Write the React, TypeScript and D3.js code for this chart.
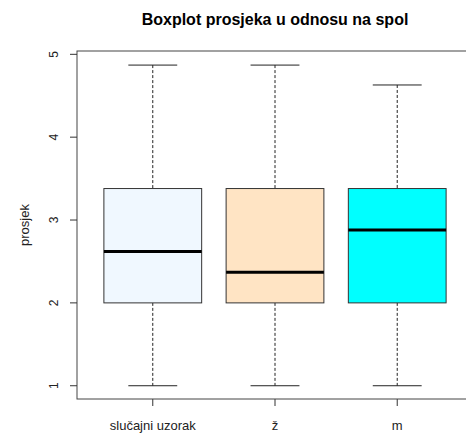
import React from "react";
import * as d3 from "d3";

const categories = ["slučajni uzorak", "ž", "m"];
const lowerWhisker = [1, 1, 1];
const q1 = [2, 2, 2];
const medians = [2.62, 2.37, 2.88];
const q3 = [3.38, 3.38, 3.38];
const upperWhisker = [4.87, 4.87, 4.63];
const fills = ["#F0F8FF", "#FFE4C4", "#00FFFF"];
const yTicks = [1, 2, 3, 4, 5];

const W = 466, H = 434;
const left = 77, right = 473, top = 51, bottom = 399;

export default function App() {
  const x = d3.scaleLinear().domain([0.38, 3.62]).range([left, right]);
  const y = d3.scaleLinear().domain([0.84, 5.04]).range([bottom, top]);
  const bw = x(1.8) - x(1);
  const font = "Liberation Sans, Arial, sans-serif";
  return (
    <svg width={W} height={H} style={{ position: "absolute", left: 0, top: 0, background: "#fff" }} fontFamily={font}>
      <text x={(left + right) / 2} y={25} textAnchor="middle" fontWeight="bold" fontSize={16} fill="#000">
        Boxplot prosjeka u odnosu na spol
      </text>
      {categories.map((c, i) => {
        const cx = x(i + 1);
        return (
          <g key={c}>
            <line x1={cx} x2={cx} y1={y(upperWhisker[i])} y2={y(q3[i])} stroke="#222" strokeDasharray="3,2" />
            <line x1={cx} x2={cx} y1={y(q1[i])} y2={y(lowerWhisker[i])} stroke="#222" strokeDasharray="3,2" />
            <line x1={cx - bw / 4} x2={cx + bw / 4} y1={y(upperWhisker[i])} y2={y(upperWhisker[i])} stroke="#222" />
            <line x1={cx - bw / 4} x2={cx + bw / 4} y1={y(lowerWhisker[i])} y2={y(lowerWhisker[i])} stroke="#222" />
            <rect x={cx - bw / 2} y={y(q3[i])} width={bw} height={y(q1[i]) - y(q3[i])} fill={fills[i]} stroke="#333" />
            <line x1={cx - bw / 2} x2={cx + bw / 2} y1={y(medians[i])} y2={y(medians[i])} stroke="#000" strokeWidth={3} />
            <line x1={cx} x2={cx} y1={bottom} y2={bottom + 7} stroke="#333" />
            <text x={cx} y={430} textAnchor="middle" fontSize={13} fill="#222">{c}</text>
          </g>
        );
      })}
      <rect x={left} y={top} width={right - left} height={bottom - top} fill="none" stroke="#444" />
      {yTicks.map((t) => (
        <g key={t}>
          <line x1={left - 7} x2={left} y1={y(t)} y2={y(t)} stroke="#333" />
          <text transform={`translate(${left - 19},${y(t)}) rotate(-90)`} textAnchor="middle" fontSize={12} fill="#222">{t}</text>
        </g>
      ))}
      <text transform={`translate(29,${(top + bottom) / 2}) rotate(-90)`} textAnchor="middle" fontSize={13} fill="#222">prosjek</text>
    </svg>
  );
}
